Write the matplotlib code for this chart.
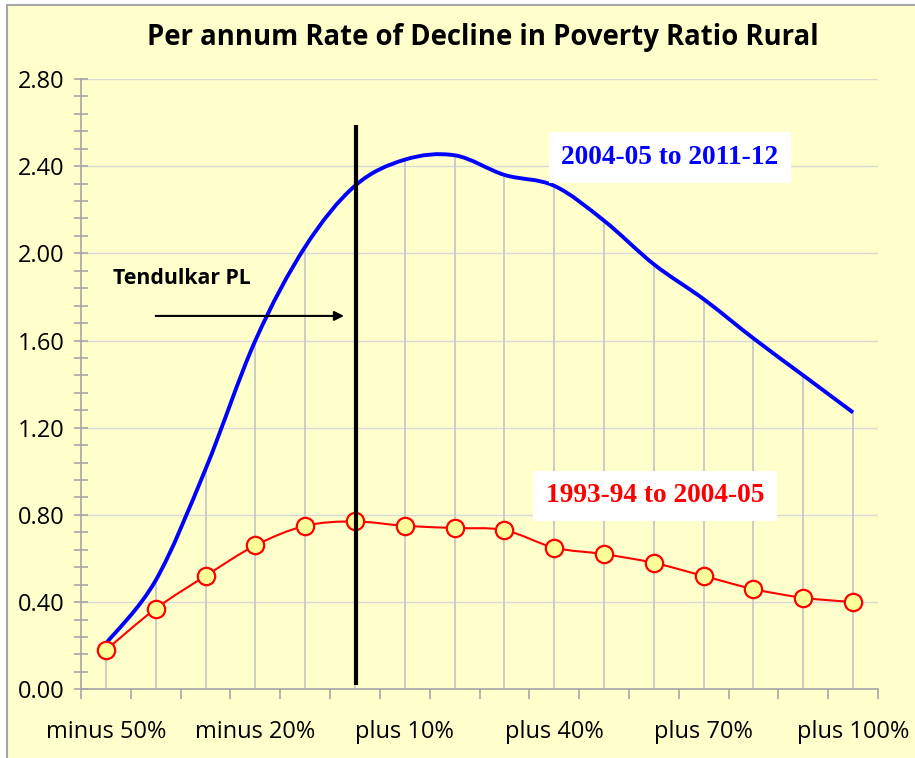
import matplotlib
matplotlib.use("Agg")
import matplotlib.pyplot as plt
from matplotlib.path import Path
from matplotlib.patches import PathPatch, Rectangle
from matplotlib.ticker import MultipleLocator, FixedLocator
import numpy as np

# ---------------- data ----------------
categories = ["minus 50%", "minus 40%", "minus 30%", "minus 20%", "minus 10%", "0%",
              "plus 10%", "plus 20%", "plus 30%", "plus 40%", "plus 50%", "plus 60%",
              "plus 70%", "plus 80%", "plus 90%", "plus 100%"]
series_0405_1112 = [0.21, 0.50, 1.01, 1.60, 2.03, 2.31, 2.43, 2.45, 2.36, 2.31,
                    2.15, 1.95, 1.79, 1.61, 1.44, 1.27]
series_9394_0405 = [0.18, 0.37, 0.52, 0.66, 0.75, 0.77, 0.75, 0.74, 0.73, 0.65,
                    0.62, 0.58, 0.52, 0.46, 0.42, 0.40]
label_blue = "2004-05 to 2011-12"
label_red = "1993-94 to 2004-05"
title = "Per annum Rate of Decline in Poverty Ratio Rural"
pl_label = "Tendulkar PL"
y_ticks = [0.0, 0.4, 0.8, 1.2, 1.6, 2.0, 2.4, 2.8]
label_every = 3

BG = "#FFFFCC"
SANS = ["Open Sans", "DejaVu Sans"]
SERIF = ["Liberation Serif", "DejaVu Serif"]


def smooth_path(xs, ys):
    """Excel-style smoothed line rendering (Bezier through the points)."""
    pts = np.column_stack([xs, ys]).astype(float)
    n = len(pts)
    verts = [pts[0]]
    codes = [Path.MOVETO]
    for i in range(n - 1):
        p0 = pts[i - 1] if i > 0 else pts[i]
        p1 = pts[i]
        p2 = pts[i + 1]
        p3 = pts[i + 2] if i + 2 < n else pts[i + 1]
        c1 = p1 + (p2 - p0) / 6.0
        c2 = p2 - (p3 - p1) / 6.0
        verts += [c1, c2, p2]
        codes += [Path.CURVE4] * 3
    return Path(verts, codes)


fig = plt.figure(figsize=(9.15, 7.58), dpi=100)
fig.patch.set_facecolor("white")
# chart area background with border (left/top visible)
bg = Rectangle((7 / 915, -0.01), 1.02, 1 - 5 / 758 + 0.01,
               transform=fig.transFigure, facecolor=BG,
               edgecolor="#A6A6A6", linewidth=1.5, zorder=-10)
fig.patches.append(bg)

ax = fig.add_axes([81 / 915, 1 - 689.3 / 758, 797 / 915, 610.3 / 758])
ax.set_zorder(1)
ax.set_facecolor(BG)
n = len(categories)
x = np.arange(n)
ax.set_xlim(-0.5, n - 0.5)
ax.set_ylim(0, 2.8)

# gridlines
for yv in y_ticks[1:]:
    ax.axhline(yv, color="#D9D9D9", lw=1.0, zorder=1)

# drop lines from the upper series
ax.vlines(x, 0, series_0405_1112, colors="#C8C8C8", lw=1.3, zorder=1.5)

# blue smoothed line
ax.add_patch(PathPatch(smooth_path(x, series_0405_1112), facecolor="none",
                       edgecolor="#0000FF", lw=2.8, zorder=3, capstyle="butt"))
# red smoothed line + markers
ax.add_patch(PathPatch(smooth_path(x, series_9394_0405), facecolor="none",
                       edgecolor="#FF0000", lw=1.5, zorder=3))
ax.plot(x, series_9394_0405, linestyle="none", marker="o", markersize=12.5,
        markerfacecolor="#FFFF99", markeredgecolor="#FF0000",
        markeredgewidth=1.6, zorder=4)

# Tendulkar poverty line
ax.plot([5.02, 5.02], [0.02, 2.59], color="black", lw=3.0, zorder=5,
        solid_capstyle="butt")
ax.annotate("", xy=(4.78, 1.713), xytext=(1.0, 1.713),
            arrowprops=dict(arrowstyle="-|>", color="black", lw=1.5,
                            mutation_scale=14, shrinkA=0, shrinkB=0), zorder=5)
ax.text(1.52, 1.885, pl_label, fontsize=15.3, fontweight="bold", family=SANS,
        ha="center", va="center", zorder=5)

# series labels
ax.text(11.32, 2.44, label_blue, fontsize=19.7, fontweight="bold", family=SERIF,
        color="#0000FF", ha="center", va="center", zorder=6,
        bbox=dict(facecolor="white", edgecolor="none", pad=9))
ax.text(11.02, 0.887, label_red, fontsize=19.7, fontweight="bold", family=SERIF,
        color="#FF0000", ha="center", va="center", zorder=6,
        bbox=dict(facecolor="white", edgecolor="none", pad=9))

# axes styling
for s in ["top", "right"]:
    ax.spines[s].set_visible(False)
for s in ["left", "bottom"]:
    ax.spines[s].set_color("#A6A6A6")
    ax.spines[s].set_linewidth(1.2)

ax.yaxis.set_major_locator(FixedLocator(y_ticks))
ax.yaxis.set_minor_locator(MultipleLocator(0.08))
ax.set_yticklabels([f"{v:.2f}" for v in y_ticks], family=SANS, fontsize=17)
ax.tick_params(axis="y", which="both", direction="inout", length=10,
               color="#A6A6A6", width=1.2)
ax.tick_params(axis="y", which="major", pad=7)

lab_pos = x[::label_every]
ax.xaxis.set_major_locator(FixedLocator(lab_pos))
ax.set_xticklabels([categories[i] for i in lab_pos], family=SANS, fontsize=17)
ax.xaxis.set_minor_locator(FixedLocator(np.arange(-0.5, n, 1.0)))
ax.tick_params(axis="x", which="major", length=0, pad=22)
ax.tick_params(axis="x", which="minor", direction="out", length=7,
               color="#A6A6A6", width=1.2)

fig.text(0.528, 1 - 38 / 758, title, fontsize=19.8, fontweight="bold",
         family=SANS, ha="center", va="center")

fig.savefig("out.png", dpi=100, facecolor=fig.get_facecolor())
